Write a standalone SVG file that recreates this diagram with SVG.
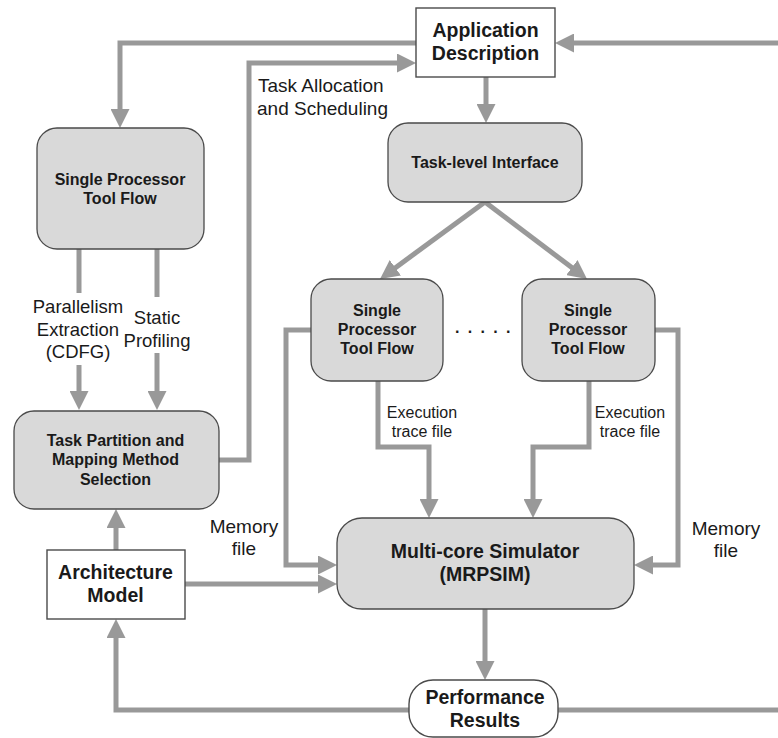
<svg xmlns="http://www.w3.org/2000/svg" width="778" height="738" viewBox="0 0 778 738">
  <style>
    .box { fill: #d9d9d9; stroke: #4a4a4a; stroke-width: 1.3; }
    .plain { fill: #ffffff; stroke: #4a4a4a; stroke-width: 1.4; }
    .lbl { font-family: "Liberation Sans", Arial, sans-serif; fill: #1a1a1a; }
    .b16 { font-size: 16px; font-weight: bold; text-anchor: middle; }
    .b19 { font-size: 19.5px; font-weight: bold; text-anchor: middle; }
    .r19 { font-size: 19px; }
    .r18 { font-size: 18.5px; text-anchor: middle; }
    .r16 { font-size: 16px; text-anchor: middle; }
    .wire { fill: none; stroke: #999999; stroke-width: 5; }
    .arr { marker-end: url(#ah); }
  </style>
  <defs>
    <marker id="ah" markerUnits="userSpaceOnUse" markerWidth="19" markerHeight="19" viewBox="0 0 19 19" refX="7" refY="9.5" orient="auto">
      <path d="M0,0 L19,9.5 L0,19 Z" fill="#999999"/>
    </marker>
  </defs>

  <!-- connectors -->
  <g id="connectors">
    <path class="wire arr" d="M778,43 H567"/>
    <path class="wire arr" d="M416,43 H120 V116"/>
    <path class="wire arr" d="M219,460 H249 V63 H404"/>
    <path class="wire arr" d="M486,77 V111"/>
    <path class="wire arr" d="M485,202 L389.7,271.9"/>
    <path class="wire arr" d="M485,202 L577.4,271.8"/>
    <path class="wire" d="M79,249 V293"/>
    <path class="wire arr" d="M79,365 V398"/>
    <path class="wire" d="M157,249 V297"/>
    <path class="wire arr" d="M157,353 V398"/>
    <path class="wire arr" d="M116,550 V521"/>
    <path class="wire arr" d="M185,584 H325"/>
    <path class="wire arr" d="M312,330 H286 V565 H325"/>
    <path class="wire arr" d="M378,381 V447 H429 V506"/>
    <path class="wire arr" d="M589,381 V447 H533 V506"/>
    <path class="wire arr" d="M655,330 H678 V565 H646"/>
    <path class="wire arr" d="M485,609 V668"/>
    <path class="wire arr" d="M409,710 H116 V631"/>
    <path class="wire" d="M558,710 H778"/>
  </g>

  <!-- connector labels -->
  <g id="connector-labels" class="lbl">
    <text class="r19" x="258" y="92">Task Allocation</text>
    <text class="r19" x="257" y="115">and Scheduling</text>
    <text class="r18" x="78" y="313">Parallelism</text>
    <text class="r18" x="78" y="336">Extraction</text>
    <text class="r18" x="78" y="358">(CDFG)</text>
    <text class="r18" x="157" y="324">Static</text>
    <text class="r18" x="157" y="347">Profiling</text>
    <text class="r16" x="422" y="418">Execution</text>
    <text class="r16" x="422" y="437">trace file</text>
    <text class="r16" x="630" y="418">Execution</text>
    <text class="r16" x="630" y="437">trace file</text>
    <text class="r19" x="244" y="533" text-anchor="middle">Memory</text>
    <text class="r19" x="244" y="555" text-anchor="middle">file</text>
    <text class="r19" x="726" y="535" text-anchor="middle">Memory</text>
    <text class="r19" x="726" y="557" text-anchor="middle">file</text>
    <text x="455" y="333" style="font-size:16px; letter-spacing:8.3px; font-weight:bold">.....</text>
  </g>

  <g id="application-description">
    <rect class="plain" x="416" y="8" width="139" height="69"/>
    <text class="lbl b19" x="485.5" y="37">Application</text>
    <text class="lbl b19" x="485.5" y="60">Description</text>
  </g>

  <g id="single-processor-left">
    <rect class="box" x="37" y="128" width="167" height="121" rx="20"/>
    <text class="lbl b16" x="120" y="185">Single Processor</text>
    <text class="lbl b16" x="120" y="203.5">Tool Flow</text>
  </g>

  <g id="task-level-interface">
    <rect class="box" x="388" y="123" width="194" height="79" rx="20"/>
    <text class="lbl b16" x="485" y="168">Task-level Interface</text>
  </g>

  <g id="single-processor-1">
    <rect class="box" x="311" y="279" width="132" height="102" rx="20"/>
    <text class="lbl b16" x="377" y="316">Single</text>
    <text class="lbl b16" x="377" y="335">Processor</text>
    <text class="lbl b16" x="377" y="354">Tool Flow</text>
  </g>

  <g id="single-processor-n">
    <rect class="box" x="522" y="279" width="133" height="102" rx="20"/>
    <text class="lbl b16" x="588" y="316">Single</text>
    <text class="lbl b16" x="588" y="335">Processor</text>
    <text class="lbl b16" x="588" y="354">Tool Flow</text>
  </g>

  <g id="task-partition">
    <rect class="box" x="14" y="411" width="205" height="98" rx="20"/>
    <text class="lbl b16" x="115.5" y="446">Task Partition and</text>
    <text class="lbl b16" x="115.5" y="465">Mapping Method</text>
    <text class="lbl b16" x="115.5" y="484.5">Selection</text>
  </g>

  <g id="architecture-model">
    <rect class="plain" x="47" y="550" width="138" height="69"/>
    <text class="lbl b19" x="115.5" y="579">Architecture</text>
    <text class="lbl b19" x="115.5" y="602">Model</text>
  </g>

  <g id="multicore-simulator">
    <rect class="box" x="337" y="518" width="297" height="91" rx="25"/>
    <text class="lbl b19" x="485" y="558">Multi-core Simulator</text>
    <text class="lbl b19" x="485" y="581">(MRPSIM)</text>
  </g>

  <g id="performance-results">
    <rect class="plain" x="409" y="680" width="149" height="57" rx="24"/>
    <text class="lbl b19" x="485" y="704">Performance</text>
    <text class="lbl b19" x="485" y="727">Results</text>
  </g>
</svg>
